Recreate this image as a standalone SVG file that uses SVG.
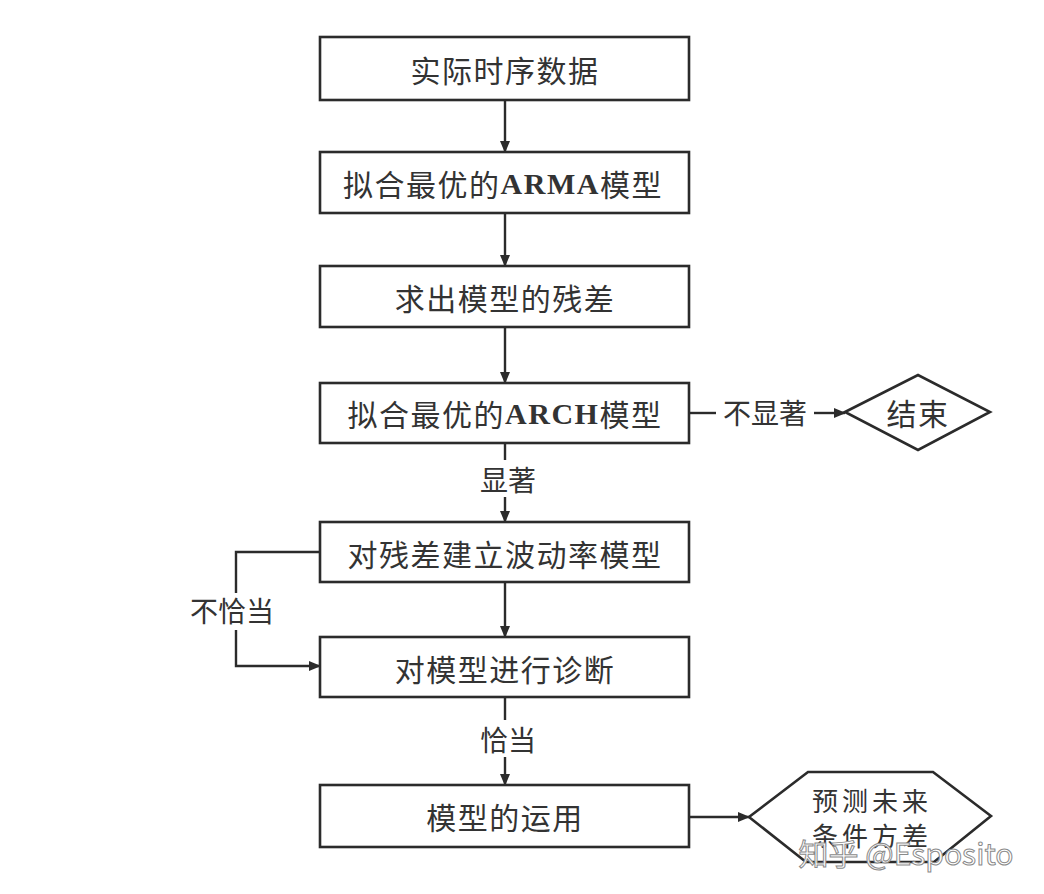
<svg xmlns="http://www.w3.org/2000/svg" width="1044" height="894" viewBox="0 0 1044 894">
<defs>
<marker id="ah" markerWidth="12" markerHeight="10" refX="11" refY="5" orient="auto" markerUnits="userSpaceOnUse">
<path d="M0,0 L12,5 L0,10 Z" fill="#2b2b2b"/>
</marker>
<style>
.box{fill:#ffffff;stroke:#2b2b2b;stroke-width:2.6}
.t{font-family:"Noto Sans CJK SC","Liberation Serif",serif;font-size:30px;fill:#333333;text-anchor:middle;dominant-baseline:central;letter-spacing:1.5px}
.h{font-size:26px;letter-spacing:4px}
.lat{font-family:"Liberation Serif",serif;font-weight:bold}
.lbl{font-family:"Noto Sans CJK SC",sans-serif;font-size:28px;fill:#333333;text-anchor:middle;dominant-baseline:central}
.ln{fill:none;stroke:#2b2b2b;stroke-width:2.4}
.wm{font-family:"Noto Sans CJK SC","Liberation Sans",sans-serif;font-size:30px;fill:#ffffff;stroke:#8a8a8a;stroke-width:1;text-anchor:middle;dominant-baseline:central}
</style>
</defs>
<rect width="1044" height="894" fill="#ffffff"/>

<g id="connectors">
<line class="ln" x1="505" y1="100" x2="505" y2="152" marker-end="url(#ah)"/>
<line class="ln" x1="505" y1="213" x2="505" y2="266" marker-end="url(#ah)"/>
<line class="ln" x1="505" y1="327" x2="505" y2="383" marker-end="url(#ah)"/>
<line class="ln" x1="689" y1="413" x2="716" y2="413"/>
<line class="ln" x1="814" y1="413" x2="845" y2="413" marker-end="url(#ah)"/>
<text class="lbl" x="765" y="412">不显著</text>
<line class="ln" x1="505" y1="443" x2="505" y2="460"/>
<line class="ln" x1="505" y1="497" x2="505" y2="522" marker-end="url(#ah)"/>
<text class="lbl" x="508" y="479">显著</text>
<line class="ln" x1="505" y1="582" x2="505" y2="637" marker-end="url(#ah)"/>
<polyline class="ln" points="320,552 236,552 236,593"/>
<polyline class="ln" points="236,630 236,666 320,666" marker-end="url(#ah)"/>
<text class="lbl" x="232" y="610">不恰当</text>
<line class="ln" x1="505" y1="697" x2="505" y2="720"/>
<line class="ln" x1="505" y1="757" x2="505" y2="785" marker-end="url(#ah)"/>
<text class="lbl" x="508" y="739">恰当</text>
<line class="ln" x1="689" y1="817" x2="749" y2="817" marker-end="url(#ah)"/>
</g>

<g id="n1"><rect class="box" x="320" y="37" width="369" height="63"/><text class="t" x="505" y="69">实际时序数据</text></g>
<g id="n2"><rect class="box" x="320" y="152" width="369" height="61"/><text class="t" x="503" y="183">拟合最优的<tspan class="lat">ARMA</tspan>模型</text></g>
<g id="n3"><rect class="box" x="320" y="266" width="369" height="61"/><text class="t" x="505" y="297">求出模型的残差</text></g>
<g id="n4"><rect class="box" x="320" y="383" width="369" height="60"/><text class="t" x="505" y="413">拟合最优的<tspan class="lat">ARCH</tspan>模型</text></g>
<g id="n5"><polygon class="box" points="845,412 918,375 990,412 918,450"/><text class="t" x="918" y="412">结束</text></g>
<g id="n6"><rect class="box" x="320" y="522" width="369" height="60"/><text class="t" x="505" y="553">对残差建立波动率模型</text></g>
<g id="n7"><rect class="box" x="320" y="637" width="369" height="60"/><text class="t" x="505" y="668">对模型进行诊断</text></g>
<g id="n8"><rect class="box" x="320" y="785" width="369" height="62"/><text class="t" x="505" y="816">模型的运用</text></g>
<g id="n9"><polygon class="box" points="749,817 808,772 933,772 991,816 934,862 806,862"/>
<text class="t h" x="872" y="799">预测未来</text><text class="t h" x="872" y="834">条件方差</text></g>

<text class="wm" x="906" y="852">知乎 @Esposito</text>
</svg>
